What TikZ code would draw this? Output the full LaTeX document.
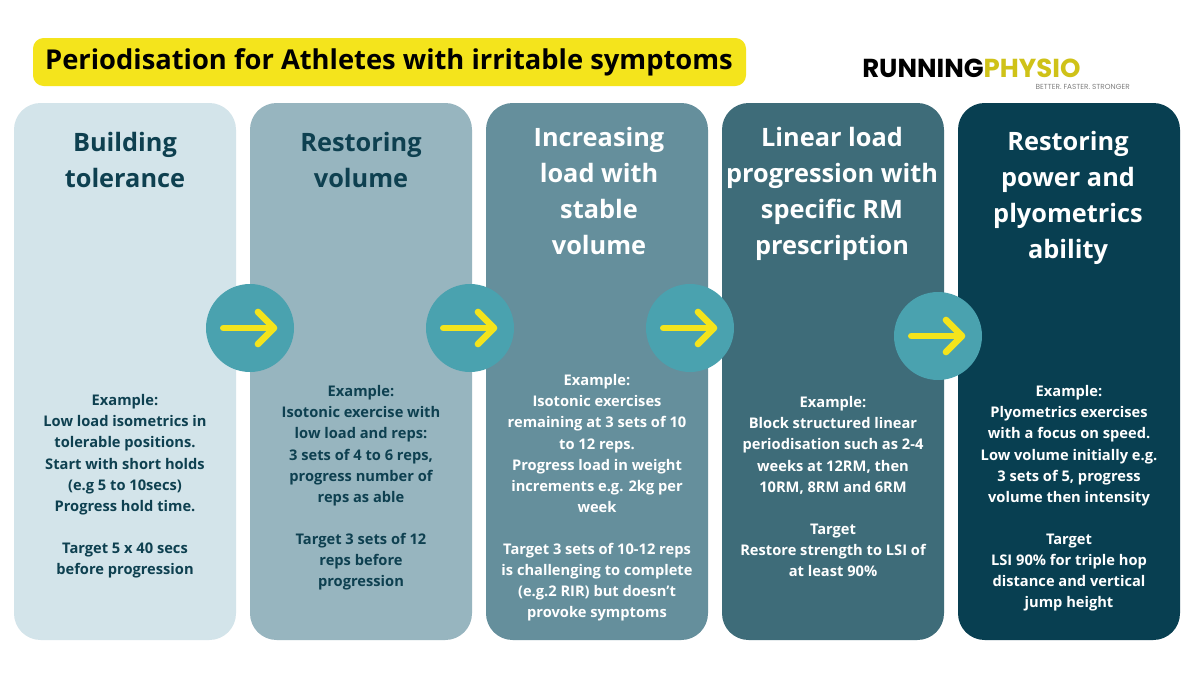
\documentclass[tikz,border=0pt]{standalone}
\usepackage{fontspec}
\setmainfont{Open Sans}
\newfontfamily\logofont{Poppins}
\begin{document}
\begin{tikzpicture}[x=0.75pt,y=-0.75pt,
 col/.style={rounded corners=20pt,draw=none},
 head/.style={font=\fontsize{19}{27}\selectfont\bfseries,align=center,anchor=north},
 body/.style={font=\fontsize{11}{15.8}\selectfont\bfseries,align=center,anchor=north},
 circ/.style={circle,fill=cyanc,minimum size=66pt,inner sep=0pt}]
\definecolor{c1}{HTML}{D3E4EA}\definecolor{c2}{HTML}{97B5BF}\definecolor{c3}{HTML}{658F9C}
\definecolor{c4}{HTML}{3E6C79}\definecolor{c5}{HTML}{083F51}\definecolor{dk}{HTML}{0E4050}
\definecolor{cyanc}{HTML}{4AA2AF}\definecolor{yel}{HTML}{F4E41C}
\useasboundingbox (0,0) rectangle (1200,675);
\fill[white] (0,0) rectangle (1200,675);
\fill[yel,rounded corners=8pt] (33,38) rectangle (746,86);
\node[font=\fontsize{20.5}{22}\selectfont\bfseries] (title) at (389,62) {Periodisation for Athletes with irritable symptoms};
% logo
\node[font=\logofont\fontsize{19.5}{20}\selectfont\bfseries,anchor=west,inner sep=0] (logo) at (862,68) {RUNNING\textcolor{yel!85!black}{PHYSIO}};
\node[font=\logofont\fontsize{5.5}{6}\selectfont,text=gray,anchor=north east,inner sep=0] (tag) at (1130,84) {BETTER. FASTER. STRONGER};
\foreach \i/\x/\c in {1/14/c1,2/250/c2,3/486/c3,4/722/c4,5/958/c5}
  \fill[\c,col] (\x,103) rectangle ++(222,537);
\node[head,text=dk] (h1) at (125,128) {Building\\tolerance};
\node[head,text=dk] (h2) at (361,128) {Restoring\\volume};
\node[head,text=white] (h3) at (599,123) {Increasing\\load with\\stable\\volume};
\node[head,text=white] (h4) at (832,123) {Linear load\\progression with\\specific RM\\prescription};
\node[head,text=white] (h5) at (1068,127) {Restoring\\power and\\plyometrics\\ability};
\node[body,text=dk] (b1) at (125,390) {Example:\\Low load isometrics in\\tolerable positions.\\Start with short holds\\(e.g 5 to 10secs)\\Progress hold time.\\[15.8pt]Target 5 x 40 secs\\before progression};
\node[body,text=dk] (b2) at (361,381) {Example:\\Isotonic exercise with\\low load and reps:\\3 sets of 4 to 6 reps,\\progress number of\\reps as able\\[15.8pt]Target 3 sets of 12\\reps before\\progression};
\node[body,text=white] (b3) at (597,370) {Example:\\Isotonic exercises\\remaining at 3 sets of 10\\to 12 reps.\\Progress load in weight\\increments e.g. 2kg per\\week\\[15.8pt]Target 3 sets of 10-12 reps\\is challenging to complete\\(e.g.2 RIR) but doesn’t\\provoke symptoms};
\node[body,text=white] (b4) at (833,392) {Example:\\Block structured linear\\periodisation such as 2-4\\weeks at 12RM, then\\10RM, 8RM and 6RM\\[15.8pt]Target\\Restore strength to LSI of\\at least 90\%};
\node[body,text=white] (b5) at (1069,381) {Example:\\Plyometrics exercises\\with a focus on speed.\\Low volume initially e.g.\\3 sets of 5, progress\\volume then intensity\\[15.8pt]Target\\LSI 90\% for triple hop\\distance and vertical\\jump height};
\foreach \n/\x/\y in {a1/250/328,a2/470/328,a3/690/328,a4/938/336}{
  \node[circ] (\n) at (\x,\y) {};
  \draw[yel,line width=5pt,line cap=round] ([xshift=-20pt]\n.center) -- ([xshift=17pt]\n.center);
  \draw[yel,line width=5pt,line cap=round,line join=round] ([xshift=6pt,yshift=12pt]\n.center) -- ([xshift=18pt]\n.center) -- ([xshift=6pt,yshift=-12pt]\n.center);
}
\end{tikzpicture}
\end{document}
